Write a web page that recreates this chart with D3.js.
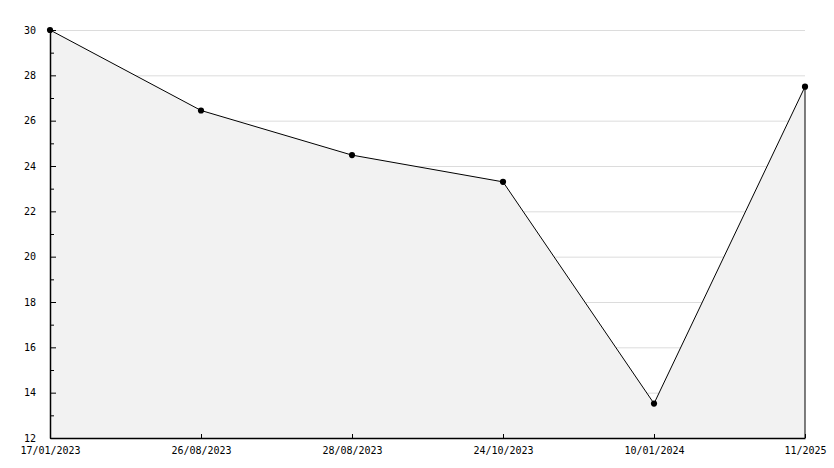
<!DOCTYPE html>
<html><head><meta charset="utf-8">
<script src="https://cdn.jsdelivr.net/npm/d3@7"></script>
<style>body{margin:0;background:#fff}svg{display:block}</style>
</head><body>
<svg id="c" width="834" height="468"></svg>
<script>
const categories = ["17/01/2023","26/08/2023","28/08/2023","24/10/2023","10/01/2024","11/2025"];
const values = [30, 26.45, 24.48, 23.3, 13.52, 27.5];
const yTicks = [12,14,16,18,20,22,24,26,28,30];
const yMinorTicks = [13,15,17,19,21,23,25,27,29];

const svg = d3.select("#c");
const L = 50, R = 805, T = 30, B = 438;
const font = "'DejaVu Sans Mono', monospace";
const x = d3.scalePoint().domain(categories).range([L, R]);
const y = d3.scaleLinear().domain([12, 30]).range([B, T]);

// grid
svg.append("g").selectAll("line").data(yTicks.slice(1)).join("line")
  .attr("x1", L).attr("x2", R).attr("y1", d => y(d)+0.5).attr("y2", d => y(d)+0.5)
  .attr("stroke", "#dcdcdc").attr("stroke-width", 1);

const data = categories.map((c, i) => ({c, v: values[i]}));
// area
svg.append("path").datum(data)
  .attr("d", d3.area().x(d => x(d.c)).y0(B).y1(d => y(d.v)))
  .attr("fill", "#f2f2f2");
// right edge
svg.append("line").attr("x1", x(categories[5])).attr("x2", x(categories[5]))
  .attr("y1", y(values[5])).attr("y2", B).attr("stroke", "#000").attr("stroke-width", 1);
// line
svg.append("path").datum(data)
  .attr("d", d3.line().x(d => x(d.c)).y(d => y(d.v)))
  .attr("fill", "none").attr("stroke", "#000").attr("stroke-width", 1);
// markers
svg.append("g").selectAll("path").data(data).join("path")
  .attr("transform", d => `translate(${x(d.c)},${y(d.v)})`)
  .attr("d", d3.symbol(d3.symbolCircle, 30))
  .attr("fill", "#000");

// y axis
const yAxis = svg.append("g").attr("transform", `translate(${L},0)`)
  .call(d3.axisLeft(y).tickValues(yTicks).tickSizeInner(-6).tickSizeOuter(0).tickPadding(14).tickFormat(d3.format("d")));
yAxis.select(".domain").attr("stroke-width", 1.5);
yAxis.selectAll("text").attr("font-family", font).attr("font-size", 10).attr("fill", "#000");
svg.append("g").selectAll("line").data(yMinorTicks).join("line")
  .attr("x1", L).attr("x2", L+4).attr("y1", d => y(d)+0.5).attr("y2", d => y(d)+0.5)
  .attr("stroke", "#000");

// x axis
const xAxis = svg.append("g").attr("transform", `translate(0,${B})`)
  .call(d3.axisBottom(x).tickSizeInner(-4).tickSizeOuter(0).tickPadding(9));
xAxis.select(".domain").attr("stroke-width", 1.5);
xAxis.selectAll("text").attr("font-family", font).attr("font-size", 10).attr("fill", "#000");
</script>
</body></html>
